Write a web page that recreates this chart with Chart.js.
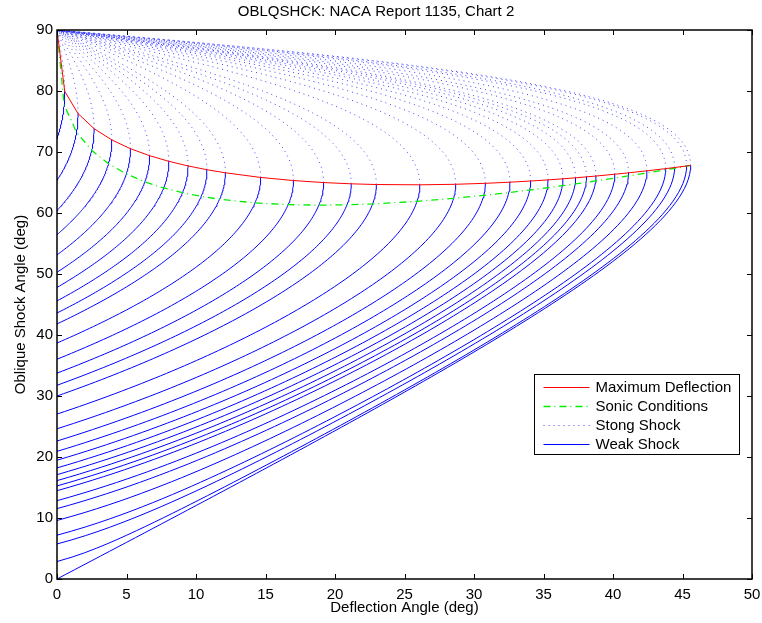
<!DOCTYPE html>
<html>
<head>
<meta charset="utf-8">
<title>OBLQSHCK</title>
<script src="https://cdn.jsdelivr.net/npm/chart.js@4.4.1/dist/chart.umd.min.js"></script>
<style>
  html, body { margin: 0; padding: 0; background: #fff; }
  canvas { display: block; }
</style>
</head>
<body>
<canvas id="chart" width="762" height="623"></canvas>
<script>
// Upstream Mach numbers of the family (Infinity = hypersonic limit)
const machNumbers = [1.0, 1.05, 1.1, 1.15, 1.2, 1.25, 1.3, 1.35, 1.4, 1.45, 1.5,
  1.6, 1.7, 1.8, 1.9, 2.0, 2.2, 2.4, 2.6, 2.8, 3.0, 3.2, 3.4, 3.6, 3.8, 4.0,
  4.5, 5, 6, 8, 10, 20, Infinity];
const GAMMA = 1.4;

const xTickValues = [0, 5, 10, 15, 20, 25, 30, 35, 40, 45, 50];
const yTickValues = [0, 10, 20, 30, 40, 50, 60, 70, 80, 90];

const seriesLabels = ['Maximum Deflection', 'Sonic Conditions', 'Stong Shock', 'Weak Shock'];
const titleText = 'OBLQSHCK: NACA Report 1135, Chart 2';
const xTitleText = 'Deflection Angle (deg)';
const yTitleText = 'Oblique Shock Angle (deg)';

const FONT = 'Liberation Sans, Arial, Helvetica, sans-serif';
const DEG = Math.PI / 180;
const TICK = 5;

function machSq(M) {
    return isFinite(M) ? M * M : 1e12;
}

// theta-beta-M relation, returns deflection in degrees
function deflection(M, betaDeg) {
    const m2 = machSq(M);
    const b = betaDeg * DEG;
    const s = Math.sin(b);
    const num = 2 * (m2 * s * s - 1) / Math.tan(b);
    const den = m2 * (GAMMA + Math.cos(2 * b)) + 2;
    const th = Math.atan(num / den) / DEG;
    return th > 0 ? th : 0;
}

function machAngle(M) {
    return isFinite(M) ? Math.asin(1 / M) / DEG : 0;
}

// shock angle giving the largest deflection
function maxDeflectionAngle(M) {
    const m2 = machSq(M), g = GAMMA;
    const s2 = ((g + 1) * m2 / 4 - 1 +
        Math.sqrt((g + 1) * (1 + (g - 1) * m2 / 2 + (g + 1) * m2 * m2 / 16))) / (g * m2);
    return Math.asin(Math.sqrt(Math.min(1, s2))) / DEG;
}

// shock angle where the downstream flow is exactly sonic
function sonicAngle(M) {
    const m2 = machSq(M), g = GAMMA;
    const s2 = ((g + 1) * m2 - (3 - g) +
        Math.sqrt((g + 1) * ((g + 1) * m2 * m2 - 2 * (3 - g) * m2 + g + 9))) / (4 * g * m2);
    return Math.asin(Math.sqrt(Math.min(1, s2))) / DEG;
}

function branch(M, from, to, n) {
    const pts = [];
    for (let i = 0; i <= n; i++) {
        const beta = from + (to - from) * i / n;
        pts.push({ x: deflection(M, beta), y: beta });
    }
    return pts;
}

const styles = [
    { borderColor: '#ff0000', borderWidth: 1, borderDash: [] },
    { borderColor: '#00ee00', borderWidth: 1.3, borderDash: [7, 4, 1, 4] },
    { borderColor: 'rgba(40, 40, 255, 0.85)', borderWidth: 1, borderDash: [1, 4] },
    { borderColor: '#0000ff', borderWidth: 1, borderDash: [] }
];

function lineSet(label, data, style) {
    return Object.assign({
        label: label,
        data: data,
        showLine: true,
        pointRadius: 0,
        tension: 0,
        fill: false
    }, style);
}

const maxLine = machNumbers.map(M => {
    const b = maxDeflectionAngle(M);
    return { x: deflection(M, b), y: b };
});
const sonicLine = machNumbers.map(M => {
    const b = sonicAngle(M);
    return { x: deflection(M, b), y: b };
});

// first datasets end up on top
const datasets = [
    lineSet(seriesLabels[0], maxLine, styles[0]),
    lineSet(seriesLabels[1], sonicLine, styles[1])
];
machNumbers.forEach(M => {
    const bMax = maxDeflectionAngle(M);
    datasets.push(lineSet(seriesLabels[3], branch(M, machAngle(M), bMax, 90), styles[3]));
});
machNumbers.forEach(M => {
    const bMax = maxDeflectionAngle(M);
    datasets.push(lineSet(seriesLabels[2], branch(M, bMax, 90, 80), styles[2]));
});

// box, inward ticks on all four sides and the legend
const axesFrame = {
    id: 'axesFrame',
    afterDraw(chart) {
        const { ctx, chartArea: a, scales } = chart;
        ctx.save();
        ctx.strokeStyle = '#000';
        ctx.lineWidth = 1;
        ctx.beginPath();
        xTickValues.forEach(v => {
            const px = Math.round(scales.x.getPixelForValue(v)) + 0.5;
            ctx.moveTo(px, a.bottom); ctx.lineTo(px, a.bottom - TICK);
            ctx.moveTo(px, a.top); ctx.lineTo(px, a.top + TICK);
        });
        yTickValues.forEach(v => {
            const py = Math.round(scales.y.getPixelForValue(v)) + 0.5;
            ctx.moveTo(a.left, py); ctx.lineTo(a.left + TICK, py);
            ctx.moveTo(a.right, py); ctx.lineTo(a.right - TICK, py);
        });
        ctx.stroke();
        ctx.lineWidth = 1.5;
        ctx.strokeRect(Math.round(a.left), Math.round(a.top),
            Math.round(a.right - a.left), Math.round(a.bottom - a.top));

        // legend
        const w = 205, h = 80;
        const bx = Math.round(a.right - 13 - w) + 0.5;
        const by = Math.round(a.bottom - 125 - h) + 0.5;
        ctx.fillStyle = '#fff';
        ctx.fillRect(bx, by, w, h);
        ctx.lineWidth = 1;
        ctx.strokeStyle = '#000';
        ctx.strokeRect(bx, by, w, h);
        ctx.font = '15px ' + FONT;
        ctx.textBaseline = 'middle';
        ctx.textAlign = 'left';
        seriesLabels.forEach((label, i) => {
            const y = Math.round(by + 12 + i * 19.3) + 0.5;
            const st = styles[i];
            ctx.strokeStyle = st.borderColor;
            ctx.lineWidth = st.borderWidth;
            ctx.setLineDash(st.borderDash);
            ctx.beginPath();
            ctx.moveTo(bx + 9, y);
            ctx.lineTo(bx + 55, y);
            ctx.stroke();
            ctx.setLineDash([]);
            ctx.fillStyle = '#000';
            ctx.fillText(label, bx + 61, y);
        });
        ctx.restore();
    }
};

const tickFont = { family: FONT, size: 15 };

new Chart(document.getElementById('chart'), {
    type: 'scatter',
    data: { datasets: datasets },
    plugins: [axesFrame],
    options: {
        responsive: false,
        animation: false,
        events: [],
        layout: { padding: { left: 0, right: 10, top: 0, bottom: 0 } },
        plugins: {
            legend: { display: false },
            tooltip: { enabled: false },
            title: {
                display: true,
                text: titleText,
                color: '#000',
                font: { family: FONT, size: 15, weight: 'normal' },
                padding: { top: 3, bottom: 9 }
            }
        },
        scales: {
            x: {
                type: 'linear',
                min: 0,
                max: 50,
                afterBuildTicks: s => { s.ticks = xTickValues.map(v => ({ value: v })); },
                afterFit: s => {
                    s.height = 44;
                    s.paddingLeft = 0;
                    s.paddingRight = 0;
                },
                grid: { display: false, drawTicks: false },
                border: { display: false },
                ticks: { color: '#000', font: tickFont, padding: 7, maxRotation: 0 },
                title: {
                    display: true,
                    text: xTitleText,
                    color: '#000',
                    font: { family: FONT, size: 15 },
                    padding: { top: 0, bottom: 6 }
                }
            },
            y: {
                type: 'linear',
                min: 0,
                max: 90,
                afterBuildTicks: s => { s.ticks = yTickValues.map(v => ({ value: v })); },
                afterFit: s => {
                    s.width = 57;
                    s.paddingTop = 0;
                    s.paddingBottom = 0;
                },
                grid: { display: false, drawTicks: false },
                border: { display: false },
                ticks: { color: '#000', font: tickFont, padding: 4 },
                title: {
                    display: true,
                    text: yTitleText,
                    color: '#000',
                    font: { family: FONT, size: 15 },
                    padding: { top: 12, bottom: 0 }
                }
            }
        }
    }
});
</script>
</body>
</html>
